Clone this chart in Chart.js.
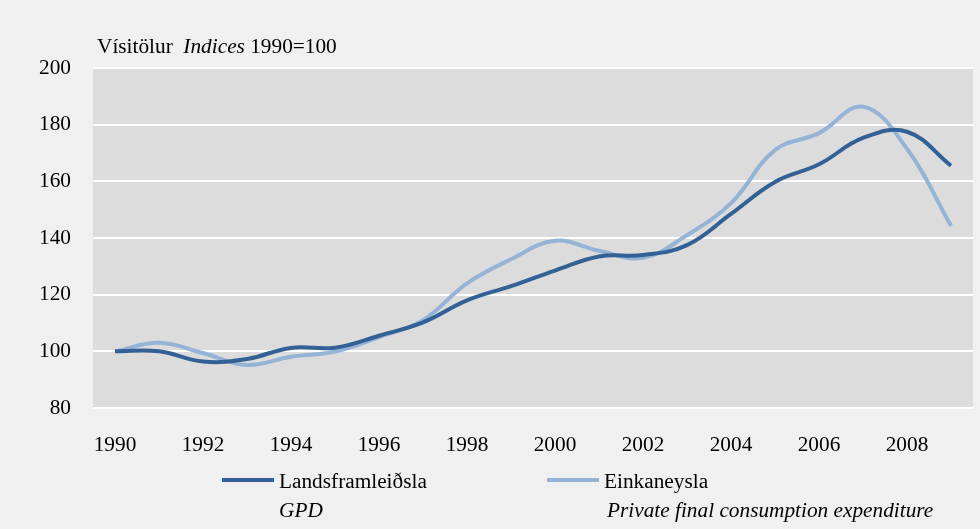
<!DOCTYPE html>
<html>
<head>
<meta charset="utf-8">
<script src="https://cdn.jsdelivr.net/npm/chart.js@4.4.1/dist/chart.umd.min.js"></script>
<style>
  html, body { margin: 0; padding: 0; background: #f0f0f0; }
  #wrap { width: 980px; height: 529px; position: relative; }
</style>
</head>
<body>
<div id="wrap"><canvas id="indexChart" width="980" height="529"></canvas></div>
<script>
// Years on the x axis
const years = [1990, 1991, 1992, 1993, 1994, 1995, 1996, 1997, 1998, 1999,
  2000, 2001, 2002, 2003, 2004, 2005, 2006, 2007, 2008, 2009];

// Landsframleiðsla (GDP), index 1990=100
const gdpValues = [100, 100, 96.4, 97.3, 101.2, 101.3, 105.5, 110.2, 118, 123,
  128.5, 133.5, 134, 137.5, 148.5, 159.8, 166, 175.3, 177.5, 165.5];

// Einkaneysla (private final consumption), index 1990=100
const privValues = [100, 103, 99.4, 95.2, 98.1, 99.9, 105, 111, 124, 132.5,
  139, 135.5, 133, 141, 152.3, 171, 177, 186.3, 171.5, 144.3];

const yTicks = [80, 100, 120, 140, 160, 180, 200];

const darkBlue = "#336196";
const lightBlue = "#95b3d7";
const serif = "'Liberation Serif', 'Times New Roman', serif";
const fontSize = 21.3;

// grey plot background
const plotBackground = {
  id: "plotBackground",
  beforeDraw(chart) {
    const { ctx, chartArea } = chart;
    ctx.save();
    ctx.fillStyle = "#dcdcdc";
    ctx.fillRect(chartArea.left, chartArea.top, chartArea.right - chartArea.left, chartArea.bottom - chartArea.top);
    ctx.restore();
  },
};

// title above the axis and the two-line legend underneath
const textParts = {
  id: "textParts",
  afterDraw(chart) {
    const ctx = chart.ctx;
    ctx.save();
    ctx.fillStyle = "#000";
    ctx.textBaseline = "alphabetic";
    ctx.textAlign = "left";

    // title
    ctx.font = fontSize + "px " + serif;
    ctx.fillText("Vísitölur", 97, 53);
    let x = 97 + ctx.measureText("Vísitölur  ").width;
    ctx.font = "italic " + fontSize + "px " + serif;
    ctx.fillText("Indices", x, 53);
    x += ctx.measureText("Indices ").width;
    ctx.font = fontSize + "px " + serif;
    ctx.fillText("1990=100", x, 53);

    // legend
    const items = [
      { ds: 0, x: 222, label: "Landsframleiðsla", sub: "GPD", subX: 279 },
      { ds: 1, x: 547, label: "Einkaneysla", sub: "Private final consumption expenditure", subX: 607 },
    ];
    items.forEach((it) => {
      const ds = chart.data.datasets[it.ds];
      ctx.strokeStyle = ds.borderColor;
      ctx.lineWidth = ds.borderWidth;
      ctx.beginPath();
      ctx.moveTo(it.x, 480);
      ctx.lineTo(it.x + 52, 480);
      ctx.stroke();
      ctx.font = fontSize + "px " + serif;
      ctx.fillText(it.label, it.x + 57, 488);
      ctx.font = "italic " + fontSize + "px " + serif;
      ctx.fillText(it.sub, it.subX, 517);
    });
    ctx.restore();
  },
};

new Chart(document.getElementById("indexChart"), {
  type: "line",
  data: {
    labels: years,
    datasets: [
      {
        label: "Landsframleiðsla",
        data: gdpValues,
        borderColor: darkBlue,
        borderWidth: 4,
        pointRadius: 0,
        tension: 0.4,
        fill: false,
      },
      {
        label: "Einkaneysla",
        data: privValues,
        borderColor: lightBlue,
        borderWidth: 4,
        pointRadius: 0,
        tension: 0.4,
        fill: false,
      },
    ],
  },
  options: {
    responsive: false,
    animation: false,
    layout: { padding: { top: 68, right: 7, left: 0, bottom: 0 } },
    plugins: {
      legend: { display: false },
      tooltip: { enabled: false },
    },
    scales: {
      x: {
        offset: true,
        grid: { display: false, drawTicks: false },
        border: { display: false },
        ticks: {
          autoSkip: false,
          maxRotation: 0,
          padding: 25,
          color: "#000",
          font: { family: serif, size: fontSize },
          callback: function (val, i) {
            return i % 2 === 0 ? years[i] : "";
          },
        },
        afterFit(scale) {
          scale.height = 121;
        },
      },
      y: {
        min: 80,
        max: 200,
        afterBuildTicks(scale) {
          scale.ticks = yTicks.map((v) => ({ value: v }));
        },
        grid: { color: "#ffffff", lineWidth: 2, drawTicks: false },
        border: { display: false },
        ticks: {
          padding: 22,
          color: "#000",
          font: { family: serif, size: fontSize },
        },
        afterFit(scale) {
          scale.width = 93;
        },
      },
    },
  },
  plugins: [plotBackground, textParts],
});
</script>
</body>
</html>
